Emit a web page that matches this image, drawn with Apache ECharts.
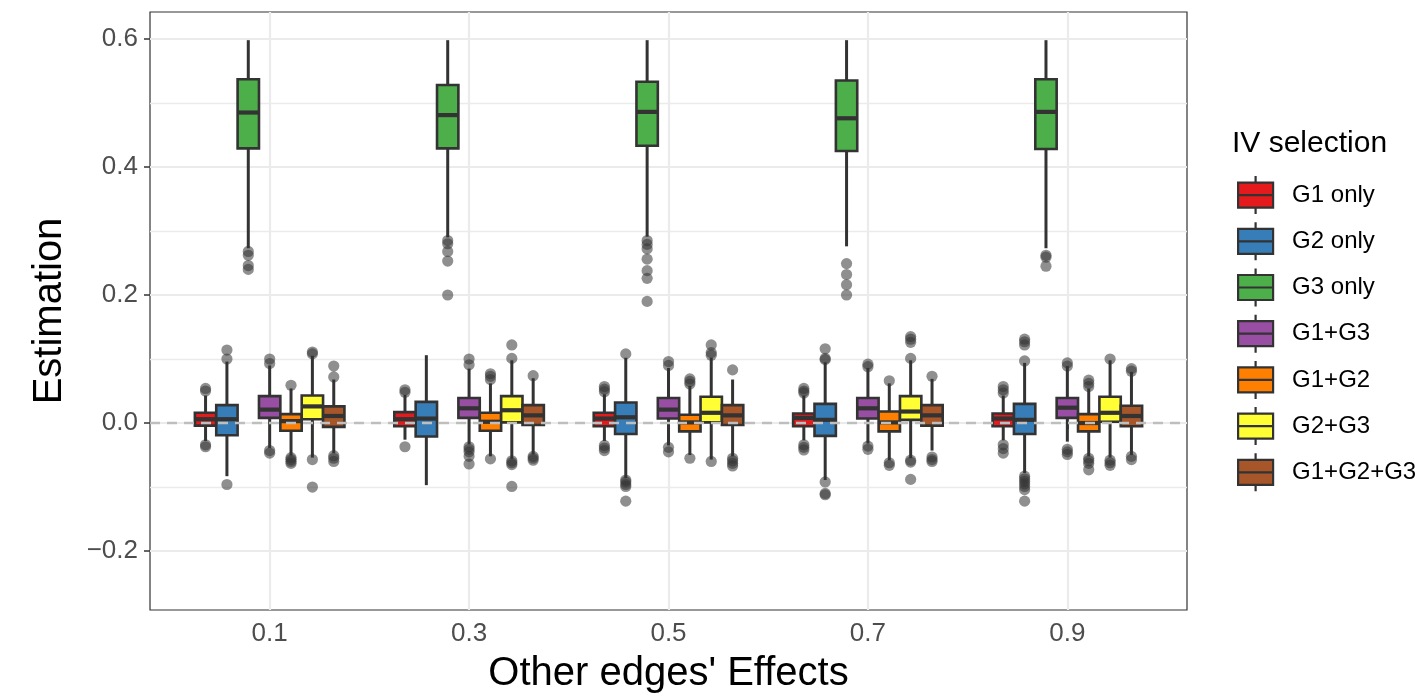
<!DOCTYPE html>
<html>
<head>
<meta charset="utf-8">
<title>IV selection boxplots</title>
<script src="https://cdn.jsdelivr.net/npm/echarts@6/dist/echarts.min.js"></script>
<style>
  html, body { margin: 0; padding: 0; background: #fff; }
  #chart { width: 1415px; height: 696px; }
</style>
</head>
<body>
<div id="chart"></div>
<script>
  // x categories (other edges' effects)
  const xLabels = ['0.1', '0.3', '0.5', '0.7', '0.9']
  const groupNames = ['G1 only', 'G2 only', 'G3 only', 'G1+G3', 'G1+G2', 'G2+G3', 'G1+G2+G3']
  const groupColors = ['#E41A1C', '#377EB8', '#4DAF4A', '#984EA3', '#FF7F00', '#FFFF33', '#A65628']

  // box stats per category: [lower whisker, Q1, median, Q3, upper whisker]
  const g1Only = [
    [-0.028, -0.004, 0.006, 0.016, 0.043],
    [-0.026, -0.005, 0.006, 0.017, 0.044],
    [-0.028, -0.005, 0.007, 0.016, 0.045],
    [-0.027, -0.005, 0.008, 0.015, 0.043],
    [-0.027, -0.005, 0.007, 0.015, 0.043]
  ]
  const g2Only = [
    [-0.083, -0.019, 0.006, 0.028, 0.096],
    [-0.097, -0.021, 0.007, 0.033, 0.106],
    [-0.086, -0.017, 0.009, 0.032, 0.102],
    [-0.089, -0.020, 0.005, 0.030, 0.095],
    [-0.078, -0.017, 0.005, 0.030, 0.094]
  ]
  const g3Only = [
    [0.273, 0.429, 0.485, 0.537, 0.598],
    [0.290, 0.429, 0.481, 0.528, 0.598],
    [0.291, 0.433, 0.486, 0.533, 0.598],
    [0.276, 0.425, 0.476, 0.535, 0.598],
    [0.273, 0.428, 0.486, 0.537, 0.598]
  ]
  const g1g3 = [
    [-0.039, 0.008, 0.021, 0.042, 0.090],
    [-0.033, 0.008, 0.023, 0.039, 0.085],
    [-0.035, 0.007, 0.021, 0.039, 0.086],
    [-0.032, 0.007, 0.023, 0.039, 0.086],
    [-0.029, 0.008, 0.024, 0.039, 0.089]
  ]
  const g1g2 = [
    [-0.051, -0.012, 0.003, 0.014, 0.054],
    [-0.052, -0.012, 0.002, 0.016, 0.062],
    [-0.050, -0.013, 0.001, 0.013, 0.058],
    [-0.058, -0.013, 0.001, 0.018, 0.062],
    [-0.052, -0.013, 0.000, 0.014, 0.054]
  ]
  const g2g3 = [
    [-0.054, 0.006, 0.026, 0.043, 0.105],
    [-0.056, 0.001, 0.020, 0.042, 0.098],
    [-0.057, 0.001, 0.016, 0.041, 0.102],
    [-0.055, 0.005, 0.018, 0.042, 0.098],
    [-0.054, 0.002, 0.016, 0.041, 0.098]
  ]
  const g1g2g3 = [
    [-0.047, -0.006, 0.011, 0.026, 0.068],
    [-0.049, -0.003, 0.012, 0.028, 0.070],
    [-0.052, -0.003, 0.012, 0.028, 0.068],
    [-0.043, -0.004, 0.012, 0.028, 0.069],
    [-0.050, -0.005, 0.011, 0.027, 0.080]
  ]

  // outliers per category
  const g1OnlyOut = [
    [0.054, 0.050, -0.034, -0.037],
    [0.052, 0.048, -0.037],
    [0.057, 0.053, 0.049, -0.035, -0.039, -0.043],
    [0.054, 0.050, 0.047, -0.034, -0.038, -0.042],
    [0.057, 0.052, 0.047, -0.034, -0.040, -0.047]
  ]
  const g2OnlyOut = [
    [0.114, 0.100, -0.096],
    [],
    [0.108, -0.089, -0.092, -0.096, -0.099, -0.122],
    [0.116, 0.101, 0.099, -0.092, -0.110, -0.112],
    [0.131, 0.127, 0.122, 0.097, -0.083, -0.087, -0.091, -0.095, -0.099, -0.104, -0.122]
  ]
  const g3OnlyOut = [
    [0.268, 0.262, 0.246, 0.240],
    [0.285, 0.280, 0.268, 0.253, 0.200],
    [0.285, 0.279, 0.272, 0.256, 0.238, 0.226, 0.190],
    [0.249, 0.232, 0.216, 0.200],
    [0.262, 0.259, 0.245]
  ]
  const g1g3Out = [
    [0.100, 0.093, -0.043, -0.047],
    [0.100, 0.091, -0.037, -0.041, -0.045, -0.052, -0.064],
    [0.096, 0.090, -0.038, -0.045],
    [0.092, 0.088, -0.036, -0.041],
    [0.094, 0.089, -0.041, -0.045, -0.049]
  ]
  const g1g2Out = [
    [0.059, -0.054, -0.057, -0.060, -0.063],
    [0.077, 0.073, 0.068, -0.056],
    [0.069, 0.065, 0.061, -0.055],
    [0.066, -0.062, -0.066],
    [0.067, 0.062, 0.057, -0.055, -0.059, -0.063, -0.073]
  ]
  const g2g3Out = [
    [0.111, 0.108, -0.057, -0.100],
    [0.122, 0.101, -0.059, -0.062, -0.065, -0.099],
    [0.122, 0.110, 0.106, -0.060],
    [0.135, 0.131, 0.126, 0.101, -0.058, -0.061, -0.088],
    [0.100, -0.058, -0.062, -0.066]
  ]
  const g1g2g3Out = [
    [0.072, 0.089, -0.051, -0.055, -0.060],
    [0.074, -0.052, -0.055, -0.058],
    [0.083, -0.055, -0.059, -0.063, -0.067],
    [0.073, -0.053, -0.057, -0.060],
    [0.085, 0.081, -0.052, -0.057]
  ]

  const yMajor = [-0.2, 0, 0.2, 0.4, 0.6]
  const yMinor = [-0.1, 0.1, 0.3, 0.5]

  const boxStats = [g1Only, g2Only, g3Only, g1g3, g1g2, g2g3, g1g2g3]
  const outliers = [g1OnlyOut, g2OnlyOut, g3OnlyOut, g1g3Out, g1g2Out, g2g3Out, g1g2g3Out]

  const FONT = 'Liberation Sans, Arial, Helvetica, sans-serif'
  const DARK = '#333333'
  const nGroups = groupNames.length

  // dodge offset in pixels for group gi inside one category band
  function dodge(api, gi) {
    const band = api.size([1, 0])[0]
    const w = band * 0.75 / nGroups
    return { w: w, off: (gi - (nGroups - 1) / 2) * w }
  }

  function boxRenderer(gi) {
    return function (params, api) {
      const xi = api.value(0)
      const d = dodge(api, gi)
      const cx = api.coord([xi, 0])[0] + d.off
      const lo = api.coord([xi, api.value(1)])[1]
      const q1 = api.coord([xi, api.value(2)])[1]
      const md = api.coord([xi, api.value(3)])[1]
      const q3 = api.coord([xi, api.value(4)])[1]
      const hi = api.coord([xi, api.value(5)])[1]
      const x0 = cx - d.w / 2
      return {
        type: 'group',
        children: [
          { type: 'line', shape: { x1: cx, y1: q3, x2: cx, y2: hi }, style: { stroke: DARK, lineWidth: 3 } },
          { type: 'line', shape: { x1: cx, y1: q1, x2: cx, y2: lo }, style: { stroke: DARK, lineWidth: 3 } },
          { type: 'rect', shape: { x: x0, y: q3, width: d.w, height: q1 - q3 },
            style: { fill: groupColors[gi], stroke: DARK, lineWidth: 2.6 } },
          { type: 'line', shape: { x1: x0, y1: md, x2: x0 + d.w, y2: md }, style: { stroke: DARK, lineWidth: 4.2 } }
        ]
      }
    }
  }

  function outlierRenderer(params, api) {
    const xi = api.value(0)
    const d = dodge(api, api.value(1))
    const p = api.coord([xi, api.value(2)])
    return {
      type: 'circle',
      shape: { cx: p[0] + d.off, cy: p[1], r: 5.6 },
      style: { fill: 'rgba(51,51,51,0.55)' }
    }
  }

  const series = []
  boxStats.forEach(function (stats, gi) {
    series.push({
      name: groupNames[gi],
      type: 'custom',
      renderItem: boxRenderer(gi),
      itemStyle: { color: groupColors[gi] },
      encode: { x: 0, y: [1, 2, 3, 4, 5] },
      data: stats.map(function (s, ci) { return [ci + 1].concat(s) }),
      z: 3
    })
  })

  const outlierData = []
  outliers.forEach(function (byCat, gi) {
    byCat.forEach(function (vals, ci) {
      vals.forEach(function (v) { outlierData.push([ci + 1, gi, v]) })
    })
  })
  series.push({
    name: 'outliers',
    type: 'custom',
    renderItem: outlierRenderer,
    encode: { x: 0, y: 2 },
    data: outlierData,
    z: 4,
    markLine: {
      silent: true,
      symbol: ['none', 'none'],
      label: { show: false },
      lineStyle: { color: '#BEBEBE', type: [10, 7], width: 2.4 },
      data: [{ yAxis: 0 }],
      z: 10
    }
  })

  const chart = echarts.init(document.getElementById('chart'), null, { renderer: 'canvas' })
  chart.setOption({
    animation: false,
    backgroundColor: '#ffffff',
    textStyle: { fontFamily: FONT },
    title: {
      text: 'IV selection',
      left: 1232,
      top: 129,
      padding: 0,
      textStyle: { fontSize: 30, fontWeight: 'normal', color: '#000', fontFamily: FONT }
    },
    legend: {
      orient: 'vertical',
      left: 1237,
      top: 175,
      padding: 0,
      itemWidth: 35,
      itemHeight: 38,
      itemGap: 6,
      selectedMode: false,
      icon: 'path://M0,6.5L35,6.5L35,31.5L0,31.5Z M0,19L35,19 M17.5,0L17.5,6.5 M17.5,31.5L17.5,38',
      itemStyle: { borderColor: DARK, borderWidth: 2.2 },
      textStyle: { fontSize: 24, color: '#000', padding: [0, 0, 0, 14], fontFamily: FONT },
      data: groupNames
    },
    grid: {
      left: 150,
      top: 12,
      width: 1037,
      height: 598,
      outerBoundsMode: 'none',
      show: true,
      borderColor: DARK,
      borderWidth: 1.2,
      backgroundColor: 'transparent'
    },
    xAxis: {
      type: 'value',
      min: 0.4,
      max: 5.6,
      name: "Other edges' Effects",
      nameLocation: 'middle',
      nameGap: 44,
      nameTextStyle: { fontSize: 40, color: '#000', fontFamily: FONT },
      axisLine: { show: false },
      axisTick: { show: true, length: 6, customValues: [1, 2, 3, 4, 5], lineStyle: { color: DARK, width: 1.5 } },
      axisLabel: {
        customValues: [1, 2, 3, 4, 5],
        formatter: function (v) { return xLabels[Math.round(v) - 1] },
        fontSize: 26,
        color: '#4D4D4D',
        margin: 11
      },
      splitLine: { show: true, lineStyle: { color: '#EBEBEB', width: 2.2 } }
    },
    yAxis: [
      {
        type: 'value',
        min: -0.292,
        max: 0.642,
        name: 'Estimation',
        nameLocation: 'middle',
        nameGap: 80,
        nameTextStyle: { fontSize: 40, color: '#000', fontFamily: FONT },
        axisLine: { show: false },
        axisTick: { show: true, length: 6, customValues: yMajor, lineStyle: { color: DARK, width: 1.5 } },
        axisLabel: {
          customValues: yMajor,
          formatter: function (v) { return v < 0 ? '\u2212' + (-v).toFixed(1) : v.toFixed(1) },
          fontSize: 26,
          color: '#4D4D4D',
          margin: 12
        },
        splitLine: { show: true, lineStyle: { color: '#EBEBEB', width: 2.2 } }
      },
      {
        // minor gridlines only
        type: 'value',
        min: -0.292,
        max: 0.642,
        position: 'left',
        axisLine: { show: false },
        axisTick: { show: false, customValues: yMinor },
        axisLabel: { show: false },
        splitLine: { show: true, lineStyle: { color: '#EBEBEB', width: 1.4 } }
      }
    ],
    series: series
  })
</script>
</body>
</html>
